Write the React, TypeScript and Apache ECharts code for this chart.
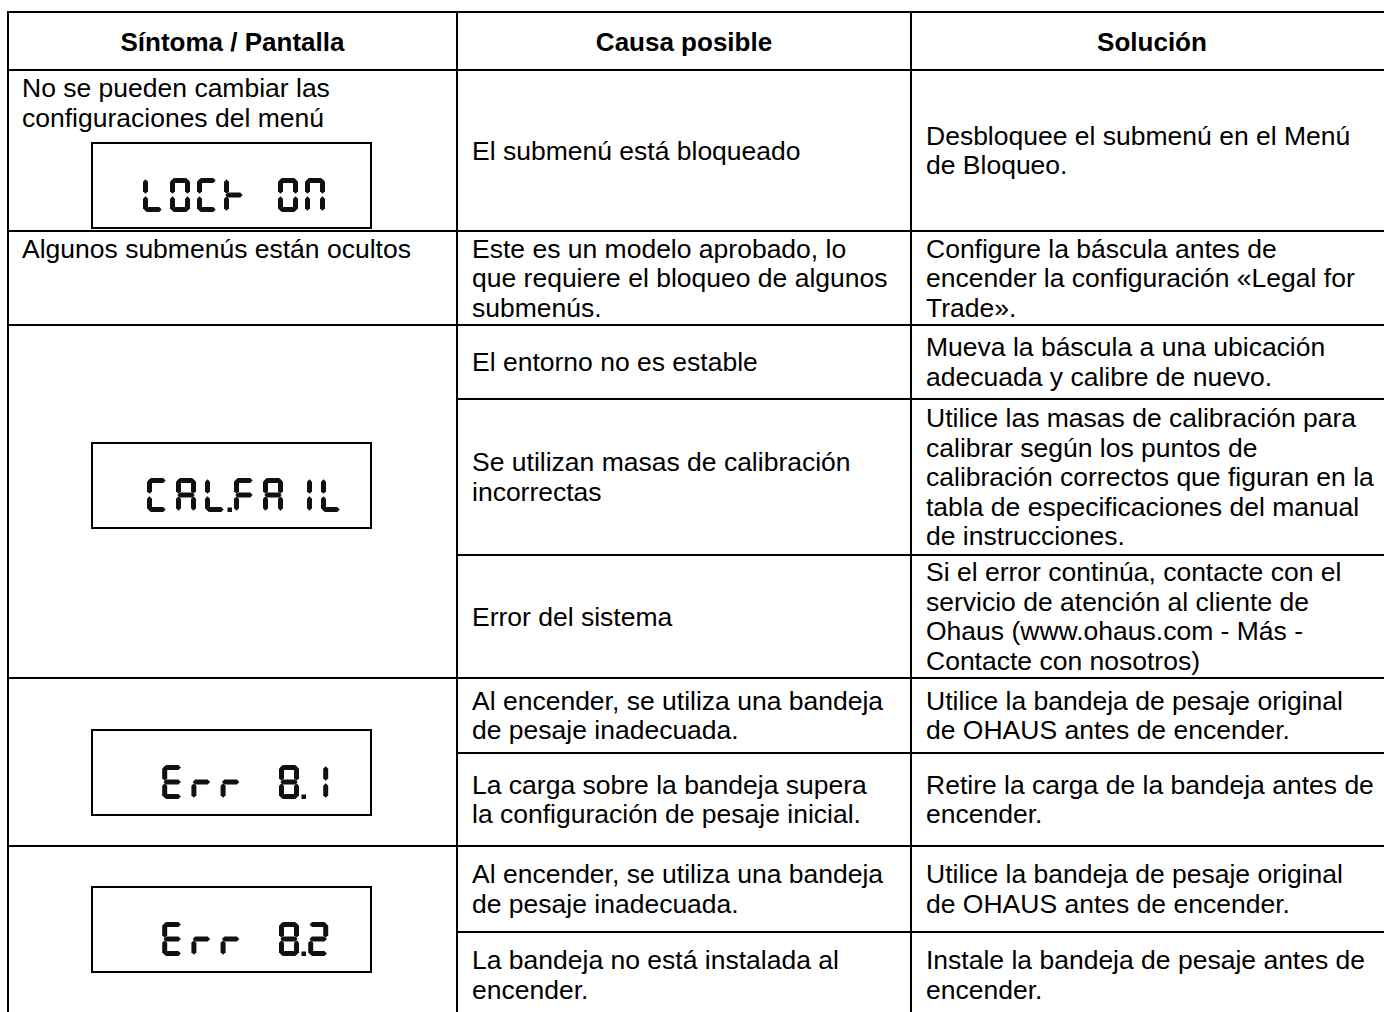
import React, { useEffect, useRef } from "react";
import * as echarts from "echarts";

// ---- Table content ----
const COLUMN_HEADERS = ["Síntoma / Pantalla", "Causa posible", "Solución"];

const SYMPTOMS: string[][] = [
  ["No se pueden cambiar las", "configuraciones del menú"],
  ["Algunos submenús están ocultos"],
  [],
  [],
  [],
];

const DISPLAYS: string[] = ["LOCK ON", "", "CAL.FAIL", " Err 8.1", " Err 8.2"];

const CAUSES: string[][] = [
  ["El submenú está bloqueado"],
  ["Este es un modelo aprobado, lo", "que requiere el bloqueo de algunos", "submenús."],
  ["El entorno no es estable"],
  ["Se utilizan masas de calibración", "incorrectas"],
  ["Error del sistema"],
  ["Al encender, se utiliza una bandeja", "de pesaje inadecuada."],
  ["La carga sobre la bandeja supera", "la configuración de pesaje inicial."],
  ["Al encender, se utiliza una bandeja", "de pesaje inadecuada."],
  ["La bandeja no está instalada al", "encender."],
];

const SOLUTIONS: string[][] = [
  ["Desbloquee el submenú en el Menú", "de Bloqueo."],
  ["Configure la báscula antes de", "encender la configuración «Legal for", "Trade»."],
  ["Mueva la báscula a una ubicación", "adecuada y calibre de nuevo."],
  [
    "Utilice las masas de calibración para",
    "calibrar según los puntos de",
    "calibración correctos que figuran en la",
    "tabla de especificaciones del manual",
    "de instrucciones.",
  ],
  [
    "Si el error continúa, contacte con el",
    "servicio de atención al cliente de",
    "Ohaus (www.ohaus.com - Más -",
    "Contacte con nosotros)",
  ],
  ["Utilice la bandeja de pesaje original", "de OHAUS antes de encender."],
  ["Retire la carga de la bandeja antes de", "encender."],
  ["Utilice la bandeja de pesaje original", "de OHAUS antes de encender."],
  ["Instale la bandeja de pesaje antes de", "encender."],
];

// which symptom group each cause/solution sub-row belongs to
const SUBROW_GROUP = [0, 1, 2, 2, 2, 3, 3, 4, 4];

// seven-segment map for the LCD displays
const SEGMENT_MAP: Record<string, string> = {
  " ": "",
  L: "def",
  O: "abcdef",
  C: "adef",
  K: "efg",
  N: "abcef",
  A: "abcefg",
  F: "aefg",
  I: "bc",
  E: "adefg",
  r: "eg",
  "8": "abcdefg",
  "1": "bc",
  "2": "abdeg",
};

// ---- Layout ----
const W = 1384;
const H = 1012;
const COL_X = [8, 457, 911, 1393];
const TOP = 12;
const HEADER_BOTTOM = 70;
const SUB_EDGES = [70, 231, 325, 399, 555, 678, 753, 846, 932, 1018];
const GROUP_EDGES = [70, 231, 325, 678, 846, 1018];
const TEXT_PAD = 15;
const LINE_H = 29.5;
const FONT = "Liberation Sans, Arial, Helvetica, sans-serif";
const BODY_SIZE = 26.5;
const HEAD_SIZE = 26;
const LCD_X = 92;
const LCD_W = 279;
const LCD_H = 85;
const LCD_TOPS = [143, null, 443, 730, 887];
const LCD_START = [143, 0, 147, 133, 133];
const LCD_PITCH = [27, 0, 29, 29.2, 29.2];

function textEl(text: string, x: number, y: number, align: string, bold = false, size = BODY_SIZE) {
  return {
    type: "text",
    silent: true,
    style: {
      text,
      x,
      y,
      fill: "#000",
      fontSize: size,
      fontFamily: FONT,
      fontWeight: bold ? "bold" : "normal",
      textAlign: align,
      align,
      textVerticalAlign: "middle",
      verticalAlign: "middle",
    },
  };
}

function lineEl(x1: number, y1: number, x2: number, y2: number) {
  return {
    type: "line",
    silent: true,
    shape: { x1, y1, x2, y2 },
    style: { stroke: "#000", lineWidth: 2 },
  };
}

function hSeg(xl: number, xr: number, yc: number, t: number) {
  return [
    [xl, yc],
    [xl + t / 2, yc - t / 2],
    [xr - t / 2, yc - t / 2],
    [xr, yc],
    [xr - t / 2, yc + t / 2],
    [xl + t / 2, yc + t / 2],
  ];
}
function vSeg(xc: number, yt: number, yb: number, t: number) {
  return [
    [xc, yt],
    [xc + t / 2, yt + t / 2],
    [xc + t / 2, yb - t / 2],
    [xc, yb],
    [xc - t / 2, yb - t / 2],
    [xc - t / 2, yt + t / 2],
  ];
}

function lcdElements(label: string, boxTop: number, startX: number, pitch: number) {
  const els: any[] = [];
  els.push({
    type: "rect",
    silent: true,
    shape: { x: LCD_X, y: boxTop, width: LCD_W, height: LCD_H },
    style: { fill: "#fff", stroke: "#000", lineWidth: 2 },
  });
  // parse into cells (a '.' attaches to the previous cell)
  const cells: { ch: string; dp: boolean }[] = [];
  for (const ch of label) {
    if (ch === "." && cells.length) cells[cells.length - 1].dp = true;
    else cells.push({ ch, dp: false });
  }
  const cw = 20;
  const chh = 34;
  const t = 5;
  const g = 1.3;
  const y0 = boxTop + 35;
  cells.forEach((cell, i) => {
    const x0 = startX + i * pitch;
    const segs = SEGMENT_MAP[cell.ch] ?? "";
    const mid = y0 + chh / 2;
    const polys: number[][][] = [];
    if (segs.includes("a")) polys.push(hSeg(x0 + g, x0 + cw - g, y0 + t / 2, t));
    if (segs.includes("b")) polys.push(vSeg(x0 + cw - t / 2, y0 + g, mid - g, t));
    if (segs.includes("c")) polys.push(vSeg(x0 + cw - t / 2, mid + g, y0 + chh - g, t));
    if (segs.includes("d")) polys.push(hSeg(x0 + g, x0 + cw - g, y0 + chh - t / 2, t));
    if (segs.includes("e")) polys.push(vSeg(x0 + t / 2, mid + g, y0 + chh - g, t));
    if (segs.includes("f")) polys.push(vSeg(x0 + t / 2, y0 + g, mid - g, t));
    if (segs.includes("g")) polys.push(hSeg(x0 + g, x0 + cw - g, mid, t));
    polys.forEach((pts) =>
      els.push({ type: "polygon", silent: true, shape: { points: pts }, style: { fill: "#111" } })
    );
    if (cell.dp) {
      els.push({
        type: "rect",
        silent: true,
        shape: { x: x0 + cw + 2.5, y: y0 + chh - 4.5, width: 4.5, height: 4.5 },
        style: { fill: "#111" },
      });
    }
  });
  return els;
}

function blockLines(lines: string[], x: number, top: number, bottom: number) {
  const center = (top + bottom) / 2;
  return lines.map((ln, i) => textEl(ln, x, center + (i - (lines.length - 1) / 2) * LINE_H, "left"));
}

function buildElements() {
  const els: any[] = [];
  // headers
  COLUMN_HEADERS.forEach((h, c) => {
    els.push(textEl(h, (COL_X[c] + COL_X[c + 1]) / 2, (TOP + HEADER_BOTTOM) / 2 + 1, "center", true, HEAD_SIZE));
  });
  // symptoms column (top aligned)
  SYMPTOMS.forEach((lines, gi) => {
    lines.forEach((ln, i) => {
      els.push(textEl(ln, COL_X[0] + 14, GROUP_EDGES[gi] + 18 + i * LINE_H, "left"));
    });
  });
  // displays
  DISPLAYS.forEach((label, gi) => {
    const top = LCD_TOPS[gi];
    if (label && top != null) els.push(...lcdElements(label, top, LCD_START[gi], LCD_PITCH[gi]));
  });
  // causes / solutions
  CAUSES.forEach((lines, si) => {
    els.push(...blockLines(lines, COL_X[1] + TEXT_PAD, SUB_EDGES[si], SUB_EDGES[si + 1]));
  });
  SOLUTIONS.forEach((lines, si) => {
    els.push(...blockLines(lines, COL_X[2] + TEXT_PAD, SUB_EDGES[si], SUB_EDGES[si + 1]));
  });
  // grid lines
  const left = COL_X[0];
  const right = COL_X[3];
  els.push(lineEl(left - 1, TOP, right, TOP));
  els.push(lineEl(left - 1, HEADER_BOTTOM, right, HEADER_BOTTOM));
  for (let si = 1; si < SUB_EDGES.length; si++) {
    const y = SUB_EDGES[si];
    const isGroupEdge = si === SUB_EDGES.length - 1 || SUBROW_GROUP[si] !== SUBROW_GROUP[si - 1];
    els.push(lineEl(isGroupEdge ? left - 1 : COL_X[1], y, right, y));
  }
  COL_X.forEach((x) => els.push(lineEl(x, TOP - 1, x, SUB_EDGES[SUB_EDGES.length - 1] + 1)));
  return els;
}

export default function App() {
  const ref = useRef<HTMLDivElement>(null);
  useEffect(() => {
    if (!ref.current) return;
    const chart = echarts.init(ref.current, null, { renderer: "svg", width: W, height: H });
    chart.setOption({
      animation: false,
      backgroundColor: "#fff",
      graphic: { elements: buildElements() },
    });
    return () => chart.dispose();
  }, []);
  return (
    <div
      ref={ref}
      style={{ position: "fixed", left: 0, top: 0, width: W, height: H, background: "#fff" }}
    />
  );
}
